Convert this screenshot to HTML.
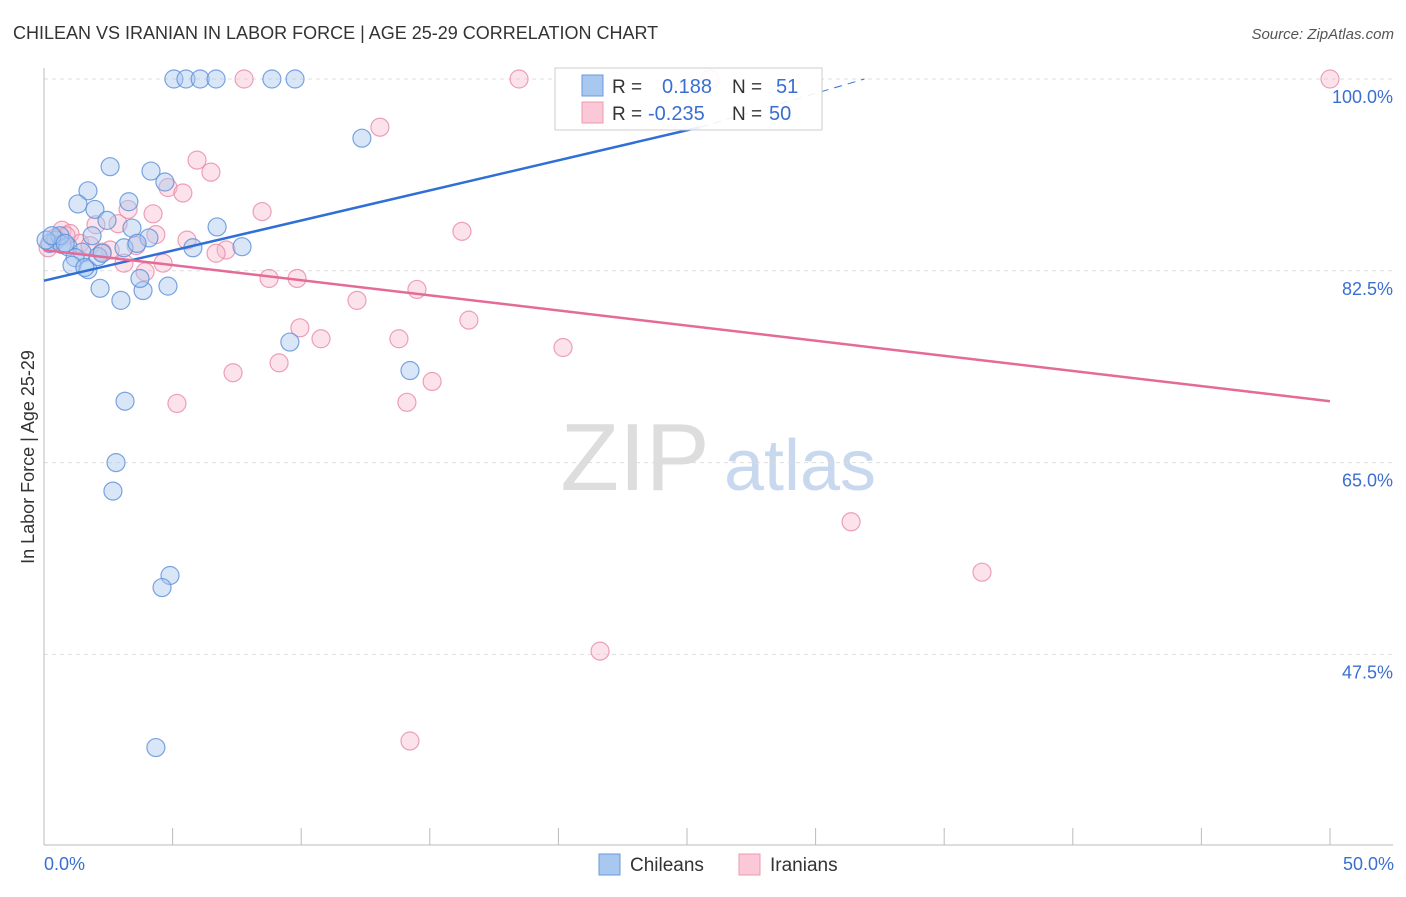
<!DOCTYPE html>
<html><head><meta charset="utf-8">
<style>
body{margin:0;background:#fff;font-family:"Liberation Sans",sans-serif;}
svg text{font-family:"Liberation Sans",sans-serif;}
</style></head>
<body>
<svg id="chart" width="1406" height="892" viewBox="0 0 1406 892" xmlns="http://www.w3.org/2000/svg">
<text x="13" y="39" font-size="18" fill="#333">CHILEAN VS IRANIAN IN LABOR FORCE | AGE 25-29 CORRELATION CHART</text>
<text x="1394" y="39" font-size="15" fill="#555" text-anchor="end" font-style="italic">Source: ZipAtlas.com</text>
<g>
<text x="635" y="490" font-size="96" fill="#ddd" text-anchor="middle" font-family="Liberation Serif, serif">ZIP</text>
<text x="800" y="490" font-size="72" fill="#c8d8ee" text-anchor="middle">atlas</text>
</g>
<g id="grid"></g>
<g id="axes"></g>
<g id="pts"></g>
<g id="trends"></g>
<text transform="translate(34,457) rotate(-90)" font-size="18" fill="#333" text-anchor="middle">In Labor Force | Age 25-29</text>
<g>
<rect x="555" y="68" width="267" height="62" fill="#fff" fill-opacity="0.9" stroke="#ccc"/>
<rect x="582" y="75" width="21" height="21" fill="#a8c8f0" stroke="#6a9ae0"/>
<rect x="582" y="102" width="21" height="21" fill="#fbc8d8" stroke="#ec9ab4"/>
<text x="612" y="93" font-size="19" fill="#333">R =</text>
<text x="662" y="93" font-size="20" fill="#3a6fd0">0.188</text>
<text x="732" y="93" font-size="19" fill="#333">N =</text>
<text x="776" y="93" font-size="20" fill="#3a6fd0">51</text>
<text x="612" y="120" font-size="19" fill="#333">R =</text>
<text x="648" y="120" font-size="20" fill="#3a6fd0">-0.235</text>
<text x="732" y="120" font-size="19" fill="#333">N =</text>
<text x="769" y="120" font-size="20" fill="#3a6fd0">50</text>
</g>
<g>
<rect x="599" y="854" width="21" height="21" fill="#a8c8f0" stroke="#6a9ae0"/>
<text x="630" y="871" font-size="19" fill="#333">Chileans</text>
<rect x="739" y="854" width="21" height="21" fill="#fbc8d8" stroke="#ec9ab4"/>
<text x="770" y="871" font-size="19" fill="#333">Iranians</text>
</g>
</svg>
<script>
const blueX=[5.05,5.52,6.07,6.69,8.86,9.76,12.36,2.57,4.16,4.70,1.71,3.30,1.32,1.98,2.45,6.73,3.42,4.08,1.87,0.47,0.23,0.70,0.93,1.48,3.11,3.62,5.79,7.70,1.21,1.09,1.71,2.18,3.85,4.82,3.73,2.99,9.56,14.23,3.15,2.80,2.68,4.90,4.59,4.35,0.62,0.08,0.31,0.82,2.10,1.59,2.26];
const blueY=[100,100,100,100,100,100,94.6,92.0,91.6,90.6,89.8,88.8,88.6,88.1,87.1,86.5,86.4,85.5,85.7,85.3,85.0,84.9,84.7,84.2,84.6,85.0,84.6,84.7,83.7,83.0,82.6,80.9,80.7,81.1,81.8,79.8,76.0,73.4,70.6,65.0,62.4,54.7,53.6,39.0,85.7,85.3,85.7,85.0,83.8,82.8,84.1];
const pinkX=[18.47,7.78,25.89,50.0,13.06,5.95,6.49,4.82,5.40,3.27,4.24,8.48,16.25,0.70,1.01,2.88,2.02,4.35,5.56,1.40,2.57,3.58,7.08,6.69,3.11,4.63,3.93,8.75,9.84,14.50,12.17,16.52,9.95,10.77,13.80,20.18,9.14,7.35,15.09,5.17,14.11,31.38,36.47,21.62,14.23,0.16,0.43,0.86,1.79,2.26];
const pinkY=[100,100,100,100,95.6,92.6,91.5,90.1,89.6,88.1,87.7,87.9,86.1,86.2,85.9,86.8,86.7,85.8,85.3,85.0,84.4,84.8,84.4,84.1,83.2,83.2,82.4,81.8,81.8,80.8,79.8,78.0,77.3,76.3,76.3,75.5,74.1,73.2,72.4,70.4,70.5,59.6,55.0,47.8,39.6,84.6,85.5,85.7,84.8,84.2];
const blueTrend=[[0,81.6],[25.5,95.6],[31.9,100]];
const pinkTrend=[[0,84.4],[50,70.6]];
const yTicks=[100,82.5,65,47.5];
const yTickLabels=["100.0%","82.5%","65.0%","47.5%"];
const xTickLabels=["0.0%","50.0%"];

const NS="http://www.w3.org/2000/svg";
const xs=v=>44+v/50*1286;
const ys=v=>79+(100-v)*10.96;
function mk(tag,attrs,parent){const e=document.createElementNS(NS,tag);for(const k in attrs)e.setAttribute(k,attrs[k]);parent.appendChild(e);return e;}
const grid=document.getElementById('grid'),axes=document.getElementById('axes'),pts=document.getElementById('pts'),tr=document.getElementById('trends');
yTicks.forEach((t,i)=>{
 const l=mk('line',{x1:44,x2:1393,y1:ys(t),y2:ys(t),stroke:'#ddd','stroke-dasharray':'4,4'},grid);
 
 
 const tx=mk('text',{x:1393,y:ys(t)+24,'font-size':18,fill:'#3a6fd0','text-anchor':'end'},axes);
 tx.textContent=yTickLabels[i];
 
 
});
mk('line',{x1:44,x2:44,y1:68,y2:845,stroke:'#bbb'},axes);
mk('line',{x1:44,x2:1393,y1:845,y2:845,stroke:'#bbb'},axes);
for(let i=0;i<=10;i++){const t=mk('line',{x1:xs(i*5),x2:xs(i*5),y1:828,y2:845,stroke:'#bbb'},axes);
 
 }
[0,50].forEach((v,i)=>{const tx=mk('text',{x:i?1394:44,y:870,'font-size':18,fill:'#3a6fd0','text-anchor':i?'end':'start'},axes);
 tx.textContent=xTickLabels[i];
 
 });
pinkX.forEach((x,i)=>{const c=mk('circle',{cx:xs(x),cy:ys(pinkY[i]),r:9,fill:'#f8b8cc','fill-opacity':0.4,stroke:'#e889a8','stroke-opacity':0.8,'stroke-width':1.2},pts);
 
 });
blueX.forEach((x,i)=>{const c=mk('circle',{cx:xs(x),cy:ys(blueY[i]),r:9,fill:'#a8c8f0','fill-opacity':0.45,stroke:'#5b8fd8','stroke-opacity':0.8,'stroke-width':1.2},pts);
 
 });
const b1=mk('line',{x1:xs(blueTrend[0][0]),y1:ys(blueTrend[0][1]),x2:xs(blueTrend[1][0]),y2:ys(blueTrend[1][1]),stroke:'#2f6fd6','stroke-width':2.5},tr);


const b2=mk('line',{x1:xs(blueTrend[1][0]),y1:ys(blueTrend[1][1]),x2:xs(blueTrend[2][0]),y2:ys(blueTrend[2][1]),stroke:'#2f6fd6','stroke-width':1,'stroke-dasharray':'8,6'},tr);


const p1=mk('line',{x1:xs(pinkTrend[0][0]),y1:ys(pinkTrend[0][1]),x2:xs(pinkTrend[1][0]),y2:ys(pinkTrend[1][1]),stroke:'#e46a98','stroke-width':2.5},tr);


</script>
</body></html>
